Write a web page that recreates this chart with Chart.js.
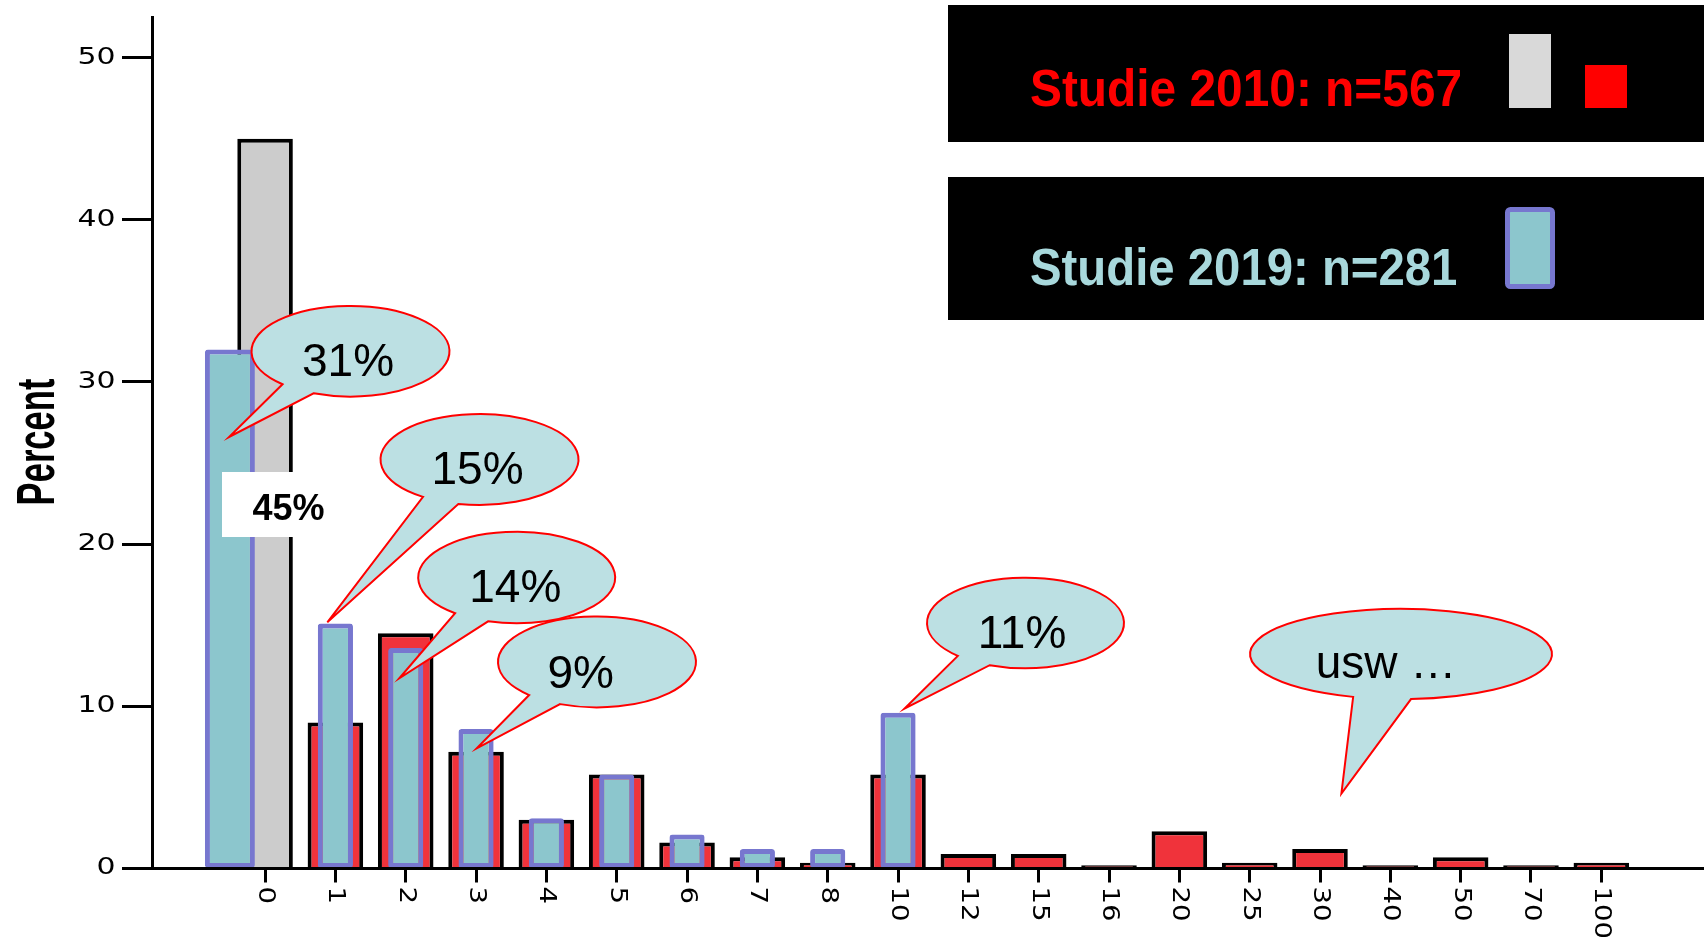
<!DOCTYPE html>
<html lang="de">
<head>
  <meta charset="UTF-8">
  <title>Studie 2010 / Studie 2019</title>
  <script src="https://cdn.jsdelivr.net/npm/chart.js@4.4.0/dist/chart.umd.min.js"></script>
  <style>
    html, body { margin: 0; padding: 0; background: #fff; }
    canvas { display: block; }
  </style>
</head>
<body>
  <canvas id="grafica" width="1704" height="937"></canvas>

  <script>
    // Daten
    const kategorien = ['0', '1', '2', '3', '4', '5', '6', '7', '8', '10', '12', '15', '16', '20', '25', '30', '40', '50', '70', '100'];
    const studie2010 = [45, 9, 14.5, 7.2, 3.0, 5.8, 1.6, 0.7, 0.35, 5.8, 0.9, 0.9, 0.2, 2.3, 0.35, 1.2, 0.2, 0.7, 0.2, 0.35];
    const studie2019 = [32, 15.1, 13.6, 8.6, 3.1, 5.8, 2.1, 1.2, 1.2, 9.6, null, null, null, null, null, null, null, null, null, null];
    const yTicks = [0, 10, 20, 30, 40, 50];
    const legende = ['Studie 2010: n=567', 'Studie 2019: n=281'];

    // Sprechblasen (Pixel im Bild)
    const blasen = [
      { text: '31%',   cx: 350.5,  cy: 351.3, rx: 99,  ry: 45.3, b1: [283, 384],    b2: [313, 394],    spitze: [229, 437],    tx: 348,  ty: 376 },
      { text: '15%',   cx: 479.5,  cy: 459.5, rx: 99,  ry: 45.5, b1: [423.3, 496.7], b2: [458.3, 504],  spitze: [327.3, 622.3], tx: 477.5, ty: 484 },
      { text: '14%',   cx: 516.7,  cy: 577.5, rx: 98.5, ry: 45.8, b1: [455, 613.3],  b2: [488.3, 621],  spitze: [399.3, 678.3], tx: 515.3, ty: 601.5 },
      { text: '9%',    cx: 597,    cy: 662,   rx: 99,  ry: 45.4, b1: [529.3, 695],   b2: [559.3, 705],  spitze: [476.7, 748.3], tx: 580.7, ty: 687.5 },
      { text: '11%',   cx: 1025.5, cy: 623,   rx: 98.5, ry: 45.3, b1: [956.6, 656.5], b2: [989, 666],   spitze: [904.4, 708.7], tx: 1022, ty: 648 },
      { text: 'usw …', cx: 1401,   cy: 654,   rx: 151, ry: 45.2, b1: [1353, 697],    b2: [1411, 699],   spitze: [1341.4, 793.5], tx: 1386, ty: 678 }
    ];

    const ROT = '#f0333b';
    const GRAU = '#cccccc';
    const TUERKIS = '#8cc6cd';
    const LILA = '#7777cf';

    const daten2010 = studie2010.map((v, i) => ({ x: i, y: v }));
    const daten2019 = studie2019.map((v, i) => ({ x: i, y: v })).filter(p => p.x > 0 && p.y !== null);
    const daten2019Null = studie2019.map((v, i) => ({ x: i, y: v })).filter(p => p.x === 0);

    function text(ctx, t, x, y, font, farbe, sx, align, baseline, winkel) {
      ctx.save();
      ctx.translate(x, y);
      if (winkel) ctx.rotate(winkel);
      ctx.scale(sx, 1);
      ctx.font = font;
      ctx.fillStyle = farbe;
      ctx.textAlign = align;
      ctx.textBaseline = baseline;
      ctx.fillText(t, 0, 0);
      ctx.restore();
    }

    function blase(ctx, b) {
      const w1 = Math.atan2((b.b1[1] - b.cy) / b.ry, (b.b1[0] - b.cx) / b.rx);
      const w2 = Math.atan2((b.b2[1] - b.cy) / b.ry, (b.b2[0] - b.cx) / b.rx);
      let d = (w2 - w1) % (2 * Math.PI);
      if (d < 0) d += 2 * Math.PI;
      const start = d > Math.PI ? w1 : w2;
      const ende = d > Math.PI ? w2 : w1;
      ctx.save();
      ctx.beginPath();
      ctx.ellipse(b.cx, b.cy, b.rx, b.ry, 0, start, ende, false);
      ctx.lineTo(b.spitze[0], b.spitze[1]);
      ctx.closePath();
      ctx.fillStyle = '#bce0e3';
      ctx.fill();
      ctx.lineWidth = 2;
      ctx.strokeStyle = '#ff0000';
      ctx.lineJoin = 'miter';
      ctx.stroke();
      ctx.restore();
      text(ctx, b.text, b.tx, b.ty, '46px "Liberation Sans", Arial, sans-serif', '#000', 1, 'center', 'alphabetic');
    }

    const zeichnung = {
      id: 'zeichnung',
      afterDatasetsDraw(chart) {
        const ctx = chart.ctx;
        // Kasten 45%
        ctx.fillStyle = '#fff';
        ctx.fillRect(222, 472, 72, 65);
        text(ctx, '45%', 252.5, 519.5, 'bold 36px "Liberation Sans", Arial, sans-serif', '#000', 1, 'left', 'alphabetic');
        blasen.forEach(b => blase(ctx, b));
      },
      afterDraw(chart) {
        const ctx = chart.ctx;
        const xs = chart.scales.x;
        const ys = chart.scales.y;
        const achseX = xs.getPixelForValue(-1.6);
        const tickFont = '23px "DejaVu Sans", sans-serif';

        yTicks.forEach(v => {
          text(ctx, String(v), achseX - 37, ys.getPixelForValue(v), tickFont, '#000', 1.3, 'right', 'middle');
        });
        kategorien.forEach((k, i) => {
          text(ctx, k, xs.getPixelForValue(i), ys.bottom + 18, tickFont, '#000', 1.2, 'left', 'middle', Math.PI / 2);
        });
        text(ctx, 'Percent', 54, 442, 'bold 54px "Liberation Sans", Arial, sans-serif', '#000', 0.64, 'center', 'alphabetic', -Math.PI / 2);

        // Legende
        ctx.fillStyle = '#000';
        ctx.fillRect(948, 5, 756, 137);
        ctx.fillRect(948, 177, 756, 143);
        const legFont = 'bold 52px "Liberation Sans", Arial, sans-serif';
        text(ctx, legende[0], 1030, 105.5, legFont, '#ff0000', 0.92, 'left', 'alphabetic');
        text(ctx, legende[1], 1030, 285, legFont, '#a8d8dc', 0.91, 'left', 'alphabetic');

        ctx.fillStyle = '#d9d9d9';
        ctx.fillRect(1509, 34, 42, 74);
        ctx.fillStyle = '#ff0000';
        ctx.fillRect(1585, 65, 42, 43);

        ctx.beginPath();
        ctx.roundRect(1507.5, 209.5, 45, 77, 3);
        ctx.fillStyle = TUERKIS;
        ctx.fill();
        ctx.lineWidth = 5;
        ctx.strokeStyle = LILA;
        ctx.stroke();
      }
    };

    const config = {
      type: 'bar',
      data: {
        datasets: [
          {
            label: legende[1],
            data: daten2019,
            xAxisID: 'x',
            grouped: false,
            order: 1,
            backgroundColor: TUERKIS,
            borderColor: LILA,
            borderWidth: 5,
            borderRadius: 3,
            borderSkipped: false,
            barPercentage: 0.5,
            categoryPercentage: 1
          },
          {
            label: legende[1],
            data: daten2019Null,
            xAxisID: 'xb',
            grouped: false,
            order: 1,
            backgroundColor: TUERKIS,
            borderColor: LILA,
            borderWidth: 5,
            borderRadius: 3,
            borderSkipped: false,
            barPercentage: 0.71,
            categoryPercentage: 1
          },
          {
            label: legende[0],
            data: daten2010,
            xAxisID: 'x',
            grouped: false,
            order: 2,
            backgroundColor: studie2010.map((v, i) => i === 0 ? GRAU : ROT),
            borderColor: '#000',
            borderWidth: 4,
            barPercentage: 0.79,
            categoryPercentage: 1
          }
        ]
      },
      options: {
        responsive: false,
        animation: false,
        layout: { padding: { left: 123, right: 0, top: 17, bottom: 54.5 } },
        plugins: { legend: { display: false }, tooltip: { enabled: false } },
        scales: {
          x: {
            type: 'linear',
            min: -2.02,
            max: 20.46,
            offset: false,
            grid: { display: true, drawOnChartArea: false, drawTicks: true, tickLength: 14, tickWidth: 3, tickColor: '#000', offset: false },
            border: { display: true, color: '#000', width: 3, z: 1 },
            ticks: { display: false, stepSize: 1, includeBounds: false },
            afterBuildTicks: s => { s.ticks = s.ticks.filter(t => t.value >= 0 && t.value < kategorien.length); }
          },
          xb: {
            type: 'linear',
            display: false,
            min: -2.02 + 0.5,
            max: 20.46 + 0.5,
            offset: false,
            grid: { offset: false },
            ticks: { stepSize: 1, includeBounds: false }
          },
          y: {
            min: 0,
            max: 52.5,
            position: { x: -1.6 },
            grid: { display: true, drawOnChartArea: false, drawTicks: true, tickLength: 29, tickWidth: 3, tickColor: '#000' },
            border: { display: true, color: '#000', width: 3, z: 1 },
            ticks: { display: false, stepSize: 10, includeBounds: false }
          }
        }
      },
      plugins: [zeichnung]
    };

    const grafica = new Chart(document.getElementById('grafica'), config);
  </script>
</body>
</html>
